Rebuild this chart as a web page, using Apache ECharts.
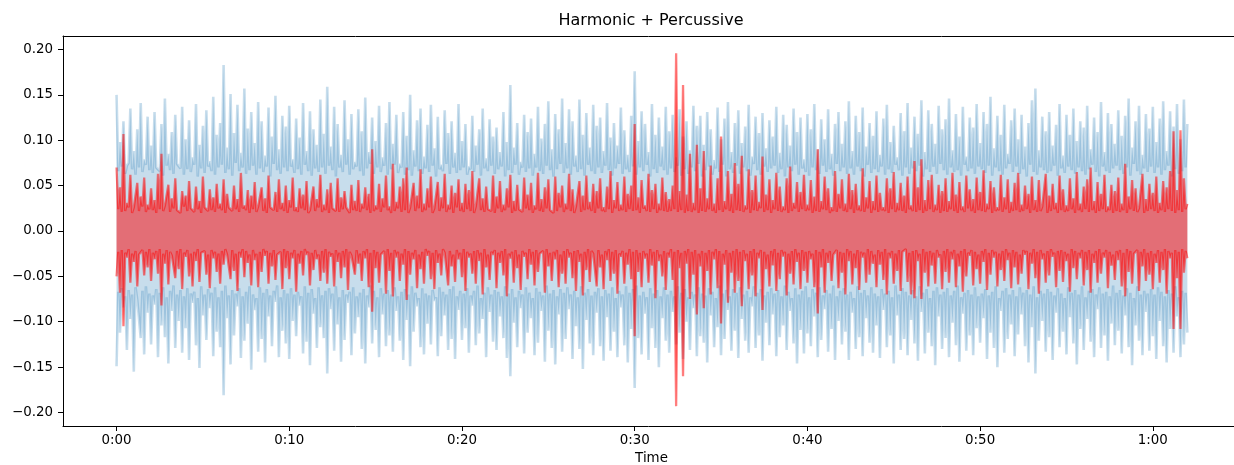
<!DOCTYPE html>
<html>
<head>
<meta charset="utf-8">
<script src="https://cdn.jsdelivr.net/npm/echarts@6/dist/echarts.min.js"></script>
<style>
html,body{margin:0;padding:0;background:#fff;}
#chart{width:1234px;height:465px;}
</style>
</head>
<body>
<div id="chart"></div>
<script>
// Waveform envelopes: one sample every HOP_SECONDS,
// amplitudes stored in thousandths (AMP_UNIT) to keep the arrays compact.
const HOP_SECONDS = 0.1;
const AMP_UNIT = 0.001;
const TITLE = 'Harmonic + Percussive';
const X_NAME = 'Time';
const xTickSeconds = [0, 10, 20, 30, 40, 50, 60];
const yTicks = [-0.2, -0.15, -0.1, -0.05, 0, 0.05, 0.1, 0.15, 0.2];

const harmonicMaxMilli = [
150,66,98,71,121,63,72,75,135,68,88,62,112,70,141,65,79,73,126,67,
94,64,131,70,68,66,118,61,146,72,85,67,109,63,128,74,74,69,137,62,
101,68,122,65,81,73,140,60,95,69,116,64,133,71,77,66,148,62,106,70,
119,73,183,64,92,68,151,61,108,75,139,66,86,70,157,63,113,67,131,72,
97,62,142,69,121,65,83,71,136,60,104,74,149,67,90,63,127,70,115,66,
138,71,79,64,124,68,103,62,141,73,88,66,132,61,112,69,95,65,145,70,
107,63,159,72,93,67,137,60,118,70,84,65,144,73,101,62,129,68,76,71,
134,66,110,61,147,69,87,74,125,63,99,70,138,65,81,72,119,62,142,68,
96,73,128,64,74,70,131,62,105,67,150,61,89,71,122,66,135,63,82,69,
117,65,139,72,91,60,126,68,73,66,133,74,108,63,121,70,86,64,140,67,
99,70,118,62,71,68,127,65,94,73,112,61,135,69,80,66,123,72,104,63,
114,68,87,71,131,60,98,67,161,64,92,73,119,62,76,70,128,65,109,69,
124,61,85,70,137,66,102,63,118,72,143,67,90,60,129,68,112,74,146,64,
97,69,134,62,121,71,83,65,145,68,106,61,130,73,92,66,139,63,116,70,
125,64,88,72,141,67,103,61,119,69,94,74,136,63,111,68,84,65,127,71,
176,62,99,70,132,66,118,73,87,60,140,68,106,64,125,71,93,67,137,62,
110,69,128,65,81,72,134,61,104,68,121,63,89,70,138,66,116,74,127,60,
95,67,131,71,112,62,78,69,136,65,101,73,124,60,142,68,87,64,119,72,
133,63,97,70,115,66,139,61,82,74,126,67,108,62,130,71,91,65,122,69,
104,72,137,64,86,68,128,60,117,70,94,66,135,73,109,62,125,69,79,65,
129,61,112,70,140,67,90,63,123,72,101,65,134,68,85,61,118,74,131,66,
96,70,121,63,143,69,88,62,127,71,109,66,136,60,93,73,119,64,105,68,
132,65,84,71,124,62,139,68,98,64,116,73,81,67,130,61,110,70,141,63,
92,69,126,66,107,72,144,60,87,68,133,65,118,71,96,63,138,74,112,67,
123,62,146,70,89,65,129,67,104,61,137,73,82,66,125,69,114,63,140,71,
97,68,131,64,118,72,148,61,91,70,127,66,106,62,139,69,85,74,122,65,
135,71,101,63,128,68,93,60,119,73,144,65,157,62,89,70,126,67,110,64,
131,66,94,72,117,61,140,69,83,64,128,71,106,67,135,63,99,70,121,66,
114,62,138,68,90,73,125,65,109,60,142,71,87,66,130,64,118,69,96,72,
133,67,105,63,127,70,146,61,92,74,121,66,138,62,84,69,129,65,113,71,
137,64,98,70,124,62,143,67,88,72,132,60,115,68,140,63,101,66,145,70,
118];

const harmonicMinMilli = [
-149,-67,-112,-63,-84,-72,-131,-65,-97,-70,-155,-62,-76,-74,-118,-66,-136,-61,-90,-69,
-125,-71,-81,-64,-139,-68,-104,-62,-117,-73,-146,-66,-88,-60,-129,-70,-99,-65,-134,-72,
-107,-63,-142,-69,-79,-67,-126,-74,-151,-61,-93,-70,-120,-64,-85,-68,-138,-62,-111,-73,
-128,-66,-181,-60,-96,-71,-147,-65,-115,-69,-83,-63,-140,-72,-121,-67,-102,-61,-153,-70,
-87,-74,-133,-62,-119,-68,-145,-64,-94,-71,-127,-66,-78,-60,-139,-73,-110,-65,-124,-69,
-141,-63,-99,-70,-116,-67,-82,-72,-135,-61,-122,-68,-148,-64,-91,-74,-129,-62,-106,-71,
-118,-66,-157,-63,-86,-69,-132,-61,-103,-73,-144,-65,-120,-70,-79,-67,-137,-62,-113,-72,
-95,-68,-130,-64,-146,-71,-84,-60,-124,-66,-109,-73,-139,-63,-92,-69,-127,-65,-115,-70,
-133,-62,-88,-72,-121,-67,-142,-64,-98,-70,-149,-61,-111,-68,-83,-74,-128,-63,-136,-69,
-102,-71,-125,-65,-77,-73,-138,-62,-116,-67,-93,-70,-131,-64,-119,-61,-141,-72,-87,-66,
-120,-69,-107,-63,-134,-71,-82,-66,-126,-60,-113,-74,-97,-68,-139,-62,-89,-70,-122,-65,
-131,-67,-94,-72,-118,-61,-140,-69,-160,-64,-101,-73,-128,-66,-85,-70,-135,-62,-112,-68,
-96,-74,-137,-63,-123,-67,-88,-71,-144,-60,-110,-69,-129,-65,-147,-72,-92,-64,-133,-68,
-119,-62,-86,-70,-141,-66,-105,-73,-130,-61,-152,-68,-98,-64,-124,-71,-137,-67,-90,-63,
-127,-72,-143,-65,-95,-69,-132,-62,-111,-74,-139,-66,-84,-70,-126,-61,-145,-68,-108,-64,
-173,-60,-118,-71,-136,-67,-91,-73,-142,-63,-107,-69,-129,-65,-150,-72,-96,-62,-121,-70,
-134,-66,-89,-72,-125,-61,-112,-68,-141,-64,-100,-73,-131,-67,-85,-70,-138,-62,-116,-69,
-123,-71,-145,-63,-93,-67,-128,-74,-106,-60,-137,-69,-119,-65,-87,-72,-132,-64,-110,-68,
-140,-62,-97,-70,-121,-66,-134,-73,-83,-61,-129,-68,-115,-64,-143,-71,-101,-67,-126,-63,
-92,-69,-138,-65,-117,-72,-104,-60,-131,-67,-88,-74,-124,-63,-146,-70,-109,-66,-135,-61,
-113,-73,-127,-64,-94,-68,-139,-62,-120,-71,-86,-65,-133,-69,-108,-60,-142,-72,-99,-66,
-125,-63,-111,-70,-142,-67,-90,-74,-130,-61,-117,-68,-138,-65,-96,-71,-123,-62,-134,-69,
-104,-72,-140,-64,-87,-69,-128,-66,-115,-73,-146,-60,-93,-70,-131,-63,-119,-67,-137,-71,
-98,-65,-124,-72,-143,-61,-89,-68,-135,-64,-112,-74,-127,-66,-148,-62,-94,-70,-130,-67,
-118,-63,-139,-71,-101,-66,-126,-60,-144,-73,-91,-68,-132,-65,-115,-70,-137,-62,-107,-72,
-123,-69,-96,-64,-141,-71,-112,-67,-129,-61,-150,-74,-88,-66,-134,-63,-119,-70,-103,-65,
-138,-72,-114,-62,-92,-68,-127,-65,-145,-70,-106,-61,-157,-73,-121,-66,-99,-69,-133,-64,
-117,-67,-142,-71,-90,-63,-128,-69,-111,-74,-136,-62,-95,-68,-124,-65,-147,-70,-108,-61,
-131,-73,-97,-66,-122,-64,-139,-70,-86,-62,-129,-69,-115,-67,-143,-72,-102,-60,-126,-68,
-110,-65,-135,-71,-93,-63,-128,-68,-148,-74,-104,-61,-121,-70,-137,-66,-89,-69,-132,-64,
-116,-70,-141,-62,-99,-67,-127,-72,-145,-65,-108,-69,-134,-61,-94,-73,-139,-66,-125,-68,
-112];

const percussiveMaxMilli = [
70,24,48,21,107,22,31,26,62,20,26,25,53,22,38,27,59,21,29,24,
47,23,34,20,63,24,85,22,28,26,51,21,36,25,58,23,25,20,44,27,
39,22,55,25,27,21,49,24,33,20,60,26,24,22,46,23,37,21,52,25,
30,23,57,20,41,26,26,22,50,24,35,21,64,25,28,23,45,20,39,24,
54,21,27,25,48,22,36,20,61,26,25,23,43,21,57,24,31,22,50,20,
34,26,59,22,26,21,47,25,40,23,55,20,23,24,49,22,35,26,62,21,
29,23,46,20,53,25,27,22,58,21,37,24,44,26,24,20,51,23,33,22,
56,21,30,25,48,23,41,20,90,22,28,24,52,21,36,26,61,23,27,20,
74,22,32,25,49,21,58,23,70,20,26,24,53,22,39,25,68,21,30,23,
47,26,60,20,25,23,54,22,37,25,63,21,29,24,50,20,42,26,57,22,
31,21,52,24,45,22,66,20,27,25,58,23,36,21,49,24,24,22,61,20,
38,25,55,21,29,23,47,26,62,20,33,22,51,24,26,21,59,25,40,23,
53,20,28,24,64,22,35,21,48,25,57,23,25,20,60,22,42,26,50,21,
30,24,63,22,46,20,27,25,55,21,39,23,61,24,32,22,52,20,44,25,
58,22,26,21,49,24,66,20,34,25,54,22,29,23,60,21,41,24,50,22,
118,23,37,20,56,25,28,22,63,21,45,24,52,20,30,23,59,22,43,21,
35,22,50,24,196,21,44,23,161,20,40,22,85,21,31,23,95,20,47,22,
88,21,36,24,72,22,30,20,58,23,104,21,33,24,66,22,41,20,75,23,
52,22,83,21,28,24,68,20,45,23,61,22,32,25,82,21,40,23,57,20,
34,24,64,22,49,21,27,23,58,20,71,22,31,25,54,21,43,24,62,22,
29,23,56,20,38,22,90,21,33,24,60,23,47,20,26,22,66,21,41,25,
57,22,30,21,63,24,45,20,52,23,28,22,69,21,37,25,55,20,33,23,
61,21,42,23,26,22,58,20,47,24,65,21,31,23,53,22,39,20,60,24,
28,22,77,21,48,23,79,20,34,22,56,24,62,21,29,23,51,20,44,22,
58,21,33,24,64,22,40,20,54,23,27,21,61,25,46,22,35,20,59,23,
43,22,67,21,30,24,55,20,48,22,26,23,62,21,37,24,57,20,32,22,
53,23,64,21,29,22,50,24,41,20,60,23,34,21,56,22,27,25,63,20,
39,22,52,24,31,20,61,23,46,21,28,22,58,24,36,20,65,23,30,21,
49,24,57,21,70,23,33,20,54,22,41,24,62,21,27,23,51,20,44,22,
59,21,30,23,74,20,38,24,56,22,47,21,25,23,63,20,35,22,52,24,
42,22,60,20,31,23,55,21,48,24,66,22,110,20,45,23,111,21,58,24,
30];

const percussiveMinMilli = [
-50,-23,-68,-21,-105,-24,-29,-20,-57,-25,-34,-22,-61,-26,-25,-21,-49,-23,-40,-20,
-55,-24,-31,-22,-47,-20,-82,-25,-36,-21,-59,-23,-27,-26,-52,-22,-42,-20,-64,-24,
-28,-21,-50,-25,-61,-23,-33,-20,-56,-24,-24,-22,-48,-26,-63,-21,-30,-23,-45,-25,
-58,-22,-37,-20,-26,-24,-53,-21,-44,-25,-66,-23,-29,-20,-51,-22,-35,-26,-60,-21,
-32,-25,-62,-23,-45,-20,-27,-22,-58,-24,-39,-21,-54,-26,-25,-23,-64,-20,-41,-22,
-53,-24,-30,-21,-67,-25,-36,-22,-49,-20,-26,-23,-60,-24,-43,-21,-31,-26,-55,-22,
-46,-20,-58,-23,-28,-25,-61,-21,-34,-24,-52,-22,-40,-20,-65,-23,-27,-26,-48,-21,
-36,-25,-55,-22,-30,-20,-62,-24,-89,-21,-41,-23,-57,-26,-26,-22,-69,-20,-44,-24,
-72,-21,-29,-23,-55,-25,-37,-20,-76,-22,-48,-24,-31,-21,-63,-26,-42,-23,-58,-20,
-27,-22,-53,-24,-64,-21,-35,-25,-49,-20,-24,-23,-60,-22,-39,-26,-56,-21,-31,-24,
-51,-20,-66,-23,-29,-25,-47,-22,-58,-21,-33,-24,-70,-20,-40,-26,-54,-23,-26,-21,
-63,-24,-35,-22,-49,-20,-72,-25,-30,-23,-57,-21,-41,-26,-65,-22,-28,-24,-53,-20,
-37,-23,-60,-21,-45,-25,-27,-22,-68,-20,-39,-24,-55,-23,-31,-21,-62,-26,-47,-22,
-58,-20,-29,-24,-52,-22,-66,-21,-34,-25,-71,-23,-43,-20,-56,-22,-25,-24,-61,-21,
-40,-26,-64,-22,-32,-20,-55,-23,-47,-21,-69,-25,-28,-22,-58,-24,-37,-20,-53,-23,
-116,-21,-45,-24,-62,-22,-30,-25,-57,-20,-38,-23,-74,-21,-33,-26,-50,-22,-65,-24,
-29,-20,-54,-23,-193,-21,-41,-24,-160,-22,-36,-20,-75,-23,-48,-21,-92,-25,-39,-22,
-85,-24,-44,-21,-70,-23,-31,-20,-63,-22,-102,-25,-37,-21,-79,-24,-46,-22,-68,-20,
-55,-23,-83,-21,-33,-25,-64,-22,-49,-20,-72,-24,-30,-21,-87,-23,-42,-26,-61,-22,
-38,-20,-66,-24,-53,-21,-28,-23,-71,-25,-47,-22,-59,-20,-34,-24,-64,-21,-44,-23,
-57,-22,-31,-25,-62,-21,-91,-23,-40,-20,-68,-24,-35,-22,-55,-26,-27,-21,-63,-23,
-46,-24,-70,-20,-33,-22,-59,-25,-41,-21,-65,-23,-29,-24,-57,-20,-48,-22,-36,-26,
-62,-21,-37,-23,-54,-20,-70,-24,-30,-22,-58,-25,-44,-21,-66,-23,-25,-20,-56,-24,
-70,-22,-74,-21,-33,-25,-75,-20,-46,-23,-61,-22,-38,-24,-58,-21,-29,-26,-64,-22,
-45,-20,-57,-23,-31,-21,-62,-25,-39,-22,-67,-20,-50,-24,-27,-21,-60,-23,-42,-26,
-58,-22,-34,-20,-65,-24,-48,-21,-29,-23,-61,-25,-43,-22,-55,-20,-32,-24,-63,-21,
-40,-23,-59,-26,-47,-21,-26,-22,-64,-24,-36,-20,-52,-23,-69,-21,-31,-25,-57,-22,
-49,-20,-28,-24,-62,-22,-44,-21,-56,-23,-33,-25,-67,-20,-41,-22,-53,-24,-30,-21,
-60,-23,-43,-21,-68,-25,-35,-22,-57,-20,-47,-24,-29,-21,-63,-23,-38,-26,-54,-22,
-32,-21,-61,-24,-72,-20,-45,-22,-58,-25,-27,-21,-66,-23,-39,-20,-55,-24,-48,-22,
-64,-25,-35,-21,-57,-23,-43,-20,-69,-22,-30,-24,-108,-21,-52,-23,-108,-20,-46,-22,
-30];

function toPoints(arr) { return arr.map((v, i) => [i * HOP_SECONDS, v * AMP_UNIT]); }
function fmtTime(s) {
  const m = Math.floor(s / 60), sec = Math.round(s - m * 60);
  return m + ':' + (sec < 10 ? '0' : '') + sec;
}
function fmtY(v) {
  const a = Math.abs(v).toFixed(2);
  return (v < -1e-9 ? '\u2212' : '') + a;
}

const FONT = 'DejaVu Sans';
const BLUE = 'rgba(31,119,180,0.25)';
const RED = 'rgba(255,0,0,0.5)';

function envSeries(arr, color, z, w) {
  return {
    type: 'line',
    data: toPoints(arr),
    showSymbol: false,
    symbol: 'none',
    smooth: false,
    z: z,
    silent: true,
    lineStyle: { color: color, width: w, opacity: 1 },
    areaStyle: { color: color, origin: 0, opacity: 1 },
    emphasis: { disabled: true }
  };
}

const chart = echarts.init(document.getElementById('chart'), null, { renderer: 'canvas' });
chart.setOption({
  animation: false,
  backgroundColor: '#fff',
  graphic: [{
    type: 'text', x: 651, y: 21, z: 100,
    style: { text: TITLE, align: 'center', verticalAlign: 'middle',
      font: '16px "DejaVu Sans"', fill: '#000' }
  }],
  grid: { left: 63, right: 0, top: 36, bottom: 39, containLabel: false, outerBoundsMode: 'none', show: false },
  xAxis: [{
    type: 'value', min: -3.1, max: 64.7, position: 'bottom',
    name: X_NAME, nameLocation: 'middle', nameGap: 25,
    nameTextStyle: { fontFamily: FONT, fontSize: 13.4, color: '#000', padding: [0, 0, 0, 6] },
    axisLine: { show: true, onZero: false, lineStyle: { color: '#000', width: 1 } },
    axisTick: { show: true, length: 5, customValues: xTickSeconds, lineStyle: { color: '#000' } },
    axisLabel: { show: true, margin: 8, customValues: xTickSeconds, formatter: fmtTime,
      fontFamily: FONT, fontSize: 13.4, color: '#000' },
    splitLine: { show: false }
  }, {
    type: 'value', min: -3.1, max: 64.7, position: 'top',
    axisLine: { show: true, onZero: false, lineStyle: { color: '#000', width: 1 } },
    axisTick: { show: false }, axisLabel: { show: false }, splitLine: { show: false }
  }],
  yAxis: {
    type: 'value', min: -0.2149, max: 0.2149,
    axisLine: { show: true, onZero: false, lineStyle: { color: '#000', width: 1 } },
    axisTick: { show: true, length: 5, customValues: yTicks, lineStyle: { color: '#000' } },
    axisLabel: { show: true, margin: 10, customValues: yTicks, formatter: fmtY,
      fontFamily: FONT, fontSize: 13.4, color: '#000' },
    splitLine: { show: false }
  },
  series: [
    envSeries(harmonicMaxMilli, BLUE, 1, 2.6),
    envSeries(harmonicMinMilli, BLUE, 1, 2.6),
    envSeries(percussiveMaxMilli, RED, 2, 2.3),
    envSeries(percussiveMinMilli, RED, 2, 2.3)
  ]
});
</script>
</body>
</html>
